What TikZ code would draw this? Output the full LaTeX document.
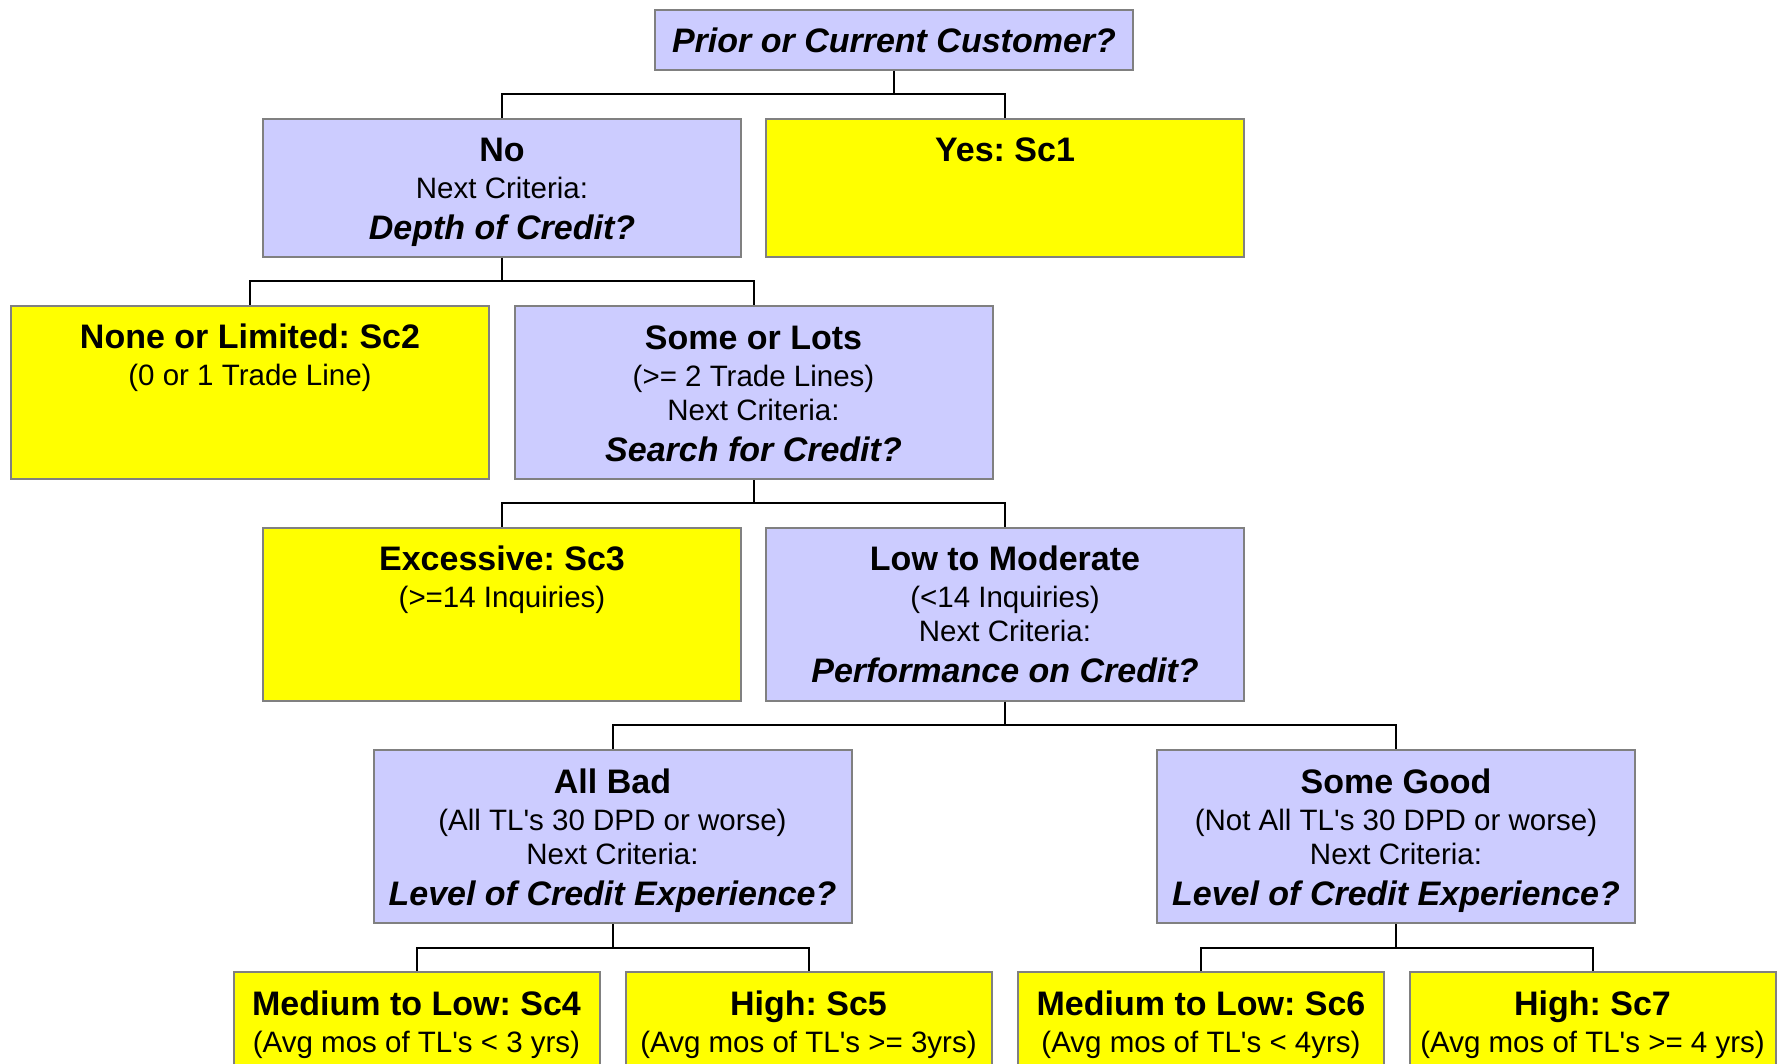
\documentclass[tikz,border=0pt]{standalone}
\usepackage{fontspec}
\newfontfamily\arialfont{Liberation Sans}
\usetikzlibrary{calc}
\frenchspacing

\definecolor{qblue}{HTML}{CCCCFF}
\definecolor{scyellow}{HTML}{FFFF00}
\definecolor{boxline}{HTML}{808080}

\newcommand{\hd}[1]{{\fontsize{17}{18}\selectfont\bfseries #1}}
\newcommand{\qn}[1]{{\fontsize{17}{18}\selectfont\bfseries\itshape #1}}

\tikzstyle{box}=[rectangle,draw=boxline,line width=1pt,align=center,inner xsep=2pt,inner ysep=0pt,minimum width=239pt,font=\arialfont\fontsize{14.75}{17}\selectfont]
\tikzstyle{question}=[box,fill=qblue]
\tikzstyle{score}=[box,fill=scyellow]
% text height = top to last baseline, text depth = last baseline to bottom
\tikzstyle{oneline}=[text height=21.5pt,text depth=47.5pt]
\tikzstyle{threeline}=[text height=60.5pt,text depth=8.5pt]
\tikzstyle{twoline}=[text height=40pt,text depth=46.5pt]
\tikzstyle{fourline}=[text height=77.5pt,text depth=9pt]
\tikzstyle{narrow}=[minimum width=183pt]
\tikzstyle{rootbox}=[rectangle,draw=boxline,fill=qblue,line width=1pt,minimum width=239pt,minimum height=30pt,inner sep=0pt,font=\arialfont]
\tikzstyle{elbow}=[line width=1pt,to path={(\tikztostart) -- ($(\tikztostart)!0.5!(\tikztostart |- \tikztotarget)$) -| (\tikztotarget)}]

\begin{document}
\begin{tikzpicture}[x=0.5pt,y=-0.5pt]
			\useasboundingbox (0,0) rectangle (1779,1064);

			\node [rootbox]                (root)     at (894,40)       {\qn{Prior or Current Customer?}};
			\node [question,threeline]     (no)       at (502,188)      {\hd{No}\\[1.5pt] Next Criteria:\\[3.5pt] \qn{Depth of Credit?}};
			\node [score,oneline]          (yes)      at (1005,188)     {\hd{Yes: Sc1}};
			\node [score,twoline]          (none)     at (250,392.5)    {\hd{None or Limited: Sc2}\\[1.5pt] (0 or 1 Trade Line)};
			\node [question,fourline]      (some)     at (753.5,392.5)  {\hd{Some or Lots}\\[1.5pt] (>= 2 Trade Lines)\\ Next Criteria:\\[3.5pt] \qn{Search for Credit?}};
			\node [score,twoline]          (excess)   at (502,614)      {\hd{Excessive: Sc3}\\[1.5pt] (>=14 Inquiries)};
			\node [question,fourline]      (lowmod)   at (1005,614)     {\hd{Low to Moderate}\\[1.5pt] (<14 Inquiries)\\ Next Criteria:\\[3.5pt] \qn{Performance on Credit?}};
			\node [question,fourline]      (allbad)   at (612.5,836.5)  {\hd{All Bad}\\[1.5pt] (All TL's 30 DPD or worse)\\ Next Criteria:\\[3.5pt] \qn{Level of Credit Experience?}};
			\node [question,fourline]      (somegood) at (1396,836.5)   {\hd{Some Good}\\[1.5pt] (Not All TL's 30 DPD or worse)\\ Next Criteria:\\[3.5pt] \qn{Level of Credit Experience?}};
			\node [score,twoline,narrow]   (sc4)      at (416.5,1058.5) {\hd{Medium to Low: Sc4}\\[1.5pt] (Avg mos of TL's < 3 yrs)};
			\node [score,twoline,narrow]   (sc5)      at (808.5,1058.5) {\hd{High: Sc5}\\[1.5pt] (Avg mos of TL's >= 3yrs)};
			\node [score,twoline,narrow]   (sc6)      at (1201,1058.5)  {\hd{Medium to Low: Sc6}\\[1.5pt] (Avg mos of TL's < 4yrs)};
			\node [score,twoline,narrow]   (sc7)      at (1592.5,1058.5) {\hd{High: Sc7}\\[1.5pt] (Avg mos of TL's >= 4 yrs)};

			\draw (root.south) edge[elbow] (no.north);
			\draw (root.south) edge[elbow] (yes.north);
			\draw (no.south) edge[elbow] (none.north);
			\draw (no.south) edge[elbow] (some.north);
			\draw (some.south) edge[elbow] (excess.north);
			\draw (some.south) edge[elbow] (lowmod.north);
			\draw (lowmod.south) edge[elbow] (allbad.north);
			\draw (lowmod.south) edge[elbow] (somegood.north);
			\draw (allbad.south) edge[elbow] (sc4.north);
			\draw (allbad.south) edge[elbow] (sc5.north);
			\draw (somegood.south) edge[elbow] (sc6.north);
			\draw (somegood.south) edge[elbow] (sc7.north);
\end{tikzpicture}
\end{document}
